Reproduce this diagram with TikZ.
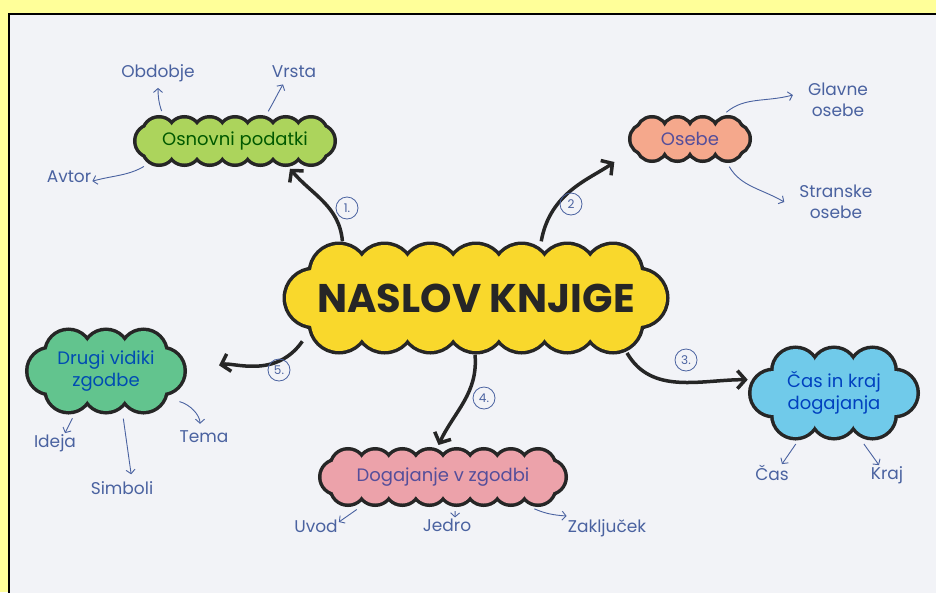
\documentclass[tikz,border=0pt]{standalone}
\usepackage{fontspec}
\setmainfont{Poppins}
\usepackage{tikz}
\usetikzlibrary{shapes.misc, arrows.meta, positioning}

\definecolor{rumena}{RGB}{255,255,153}
\definecolor{papir}{RGB}{242,243,247}
\definecolor{modra}{RGB}{74,98,160}
\definecolor{zlata}{RGB}{249,216,44}
\definecolor{zelena}{RGB}{172,212,92}
\definecolor{oranzna}{RGB}{245,168,140}
\definecolor{mzelena}{RGB}{98,196,142}
\definecolor{roza}{RGB}{236,162,170}
\definecolor{svmodra}{RGB}{112,202,234}

% oblak: sredisce x, y, pol dolzine, odmik vrste, st. kodrov, polmer, barva
\newcommand{\oblak}[7]{%
  \pgfmathtruncatemacro{\oblakzadnji}{#5-1}
  \foreach \plast in {1,2}{
    \ifnum\plast=1 \tikzset{oblakpot/.style={draw=black!85, fill=black!85, line width=7pt}}%
    \else \tikzset{oblakpot/.style={fill=#7}}\fi
    \path[oblakpot, rounded corners=#4pt] ({#1-#3-#4}, {#2-#4}) rectangle ({#1+#3+#4}, {#2+#4});
    \foreach \i in {0,...,\oblakzadnji}{
      \path[oblakpot] ({#1-#3+2*#3*\i/\oblakzadnji}, {#2+#4}) circle (#6pt);
      \path[oblakpot] ({#1-#3+2*#3*\i/\oblakzadnji}, {#2-#4}) circle (#6pt);
    }
    \path[oblakpot] ({#1+#3+#4}, #2) circle (#6pt);
    \path[oblakpot] ({#1-#3-#4}, #2) circle (#6pt);
  }
}

\tikzset{
  oblaknode/.style={rounded rectangle, inner sep=0pt, align=center, font=\fontsize{18}{22}\selectfont},
  podpis/.style={text=modra, font=\fontsize{17}{21}\selectfont, inner sep=1pt, align=center},
  debela/.style={line width=3.5pt, draw=black!85, -{Straight Barb[length=8pt,width=18pt]}},
  tanka/.style={line width=0.9pt, draw=modra, shorten <=4pt, -{Straight Barb[length=4pt,width=9pt]}},
  krog/.style={circle, draw=modra, line width=0.8pt, text=modra, inner sep=0pt, minimum size=22pt, font=\fontsize{12}{12}\selectfont},
}

\begin{document}
\begin{tikzpicture}[x=1pt, y=1pt]
        \useasboundingbox (0,0) rectangle (936,-592);
        \clip (0,0) rectangle (936,-592);
        \fill[rumena] (0,0) rectangle (936,-592);
        \draw[line width=2pt, fill=papir] (9,-14) rectangle (950,-610);

        % oblaki
        \oblak{476}{-298}{137}{25}{7}{28}{zlata}
        \oblak{235}{-141}{76}{7.5}{7}{15}{zelena}
        \oblak{690}{-139}{38}{6.5}{4}{14}{oranzna}
        \oblak{106}{-371}{37.5}{18}{3}{22}{mzelena}
        \oblak{443}{-477}{95}{10.5}{8}{16}{roza}
        \oblak{834}{-393}{38.5}{22}{3}{22}{svmodra}

        \node[oblaknode, minimum width=387pt, minimum height=113pt, font=\fontsize{40}{40}\selectfont\bfseries, text=black!85] (naslov) at (476,-298) {NASLOV KNJIGE};
        \node[oblaknode, minimum width=204pt, minimum height=52pt, text=green!35!black] (ospod) at (235,-141) {Osnovni podatki};
        \node[oblaknode, minimum width=124pt, minimum height=48pt, text=modra!80!violet] (osebe) at (690,-139) {Osebe};
        \node[oblaknode, minimum width=162pt, minimum height=87pt, text=teal!60!blue] (drugi) at (106,-371) {Drugi vidiki\\zgodbe};
        \node[oblaknode, minimum width=250pt, minimum height=60pt, text=modra!80!violet] (dogaj) at (443,-477) {Dogajanje v zgodbi};
        \node[oblaknode, minimum width=172pt, minimum height=95pt, text=blue!50!teal] (cas) at (834,-393) {Čas in kraj\\dogajanja};

        % debele puscice
        \draw[debela, shorten >=2pt] (naslov.157) to[out=95, in=-50] (ospod.-26);
        \draw[debela, shorten >=20pt] (naslov.41) to[out=80, in=215] (osebe.191);
        \draw[debela, shorten >=2pt] (naslov.-20) to[out=-60, in=180] (cas.171);
        \draw[debela, shorten >=2pt] (naslov.-91) to[out=-85, in=65] (dogaj.100);
        \draw[debela, shorten >=33pt] (naslov.194) to[out=235, in=15] (drugi.-2);

        \node[krog] (k1) at (347,-208) {1.};
        \node[krog] (k2) at (571,-204) {2};
        \node[krog] (k3) at (686,-360) {3.};
        \node[krog] (k4) at (484,-398) {4.};
        \node[krog] (k5) at (279,-370) {5.};

        % podtocke
        \node[podpis] (obd) at (158,-73) {Obdobje};
        \node[podpis] (vrsta) at (294,-72) {Vrsta};
        \node[podpis] (avtor) at (69,-177) {Avtor};
        \node[podpis] (glavne) at (838,-100) {Glavne\\osebe};
        \node[podpis] (stranske) at (836,-202) {Stranske\\osebe};
        \node[podpis] (ideja) at (55,-443) {Ideja};
        \node[podpis] (simboli) at (122,-488) {Simboli};
        \node[podpis] (tema) at (204,-437) {Tema};
        \node[podpis] (uvod) at (316,-526) {Uvod};
        \node[podpis] (jedro) at (447,-525) {Jedro};
        \node[podpis] (zak) at (607,-528) {Zaključek};
        \node[podpis] (casb) at (772,-473) {Čas};
        \node[podpis] (kraj) at (887,-475) {Kraj};

        \draw[tanka, shorten >=5pt] (ospod.160) to[out=110, in=-90] (obd.south);
        \draw[tanka, shorten >=6pt] (ospod.40) to[out=60, in=-120] ([xshift=-8pt]vrsta.south);
        \draw[tanka] (ospod.195) to[out=210, in=15] (avtor.-10);
        \draw[tanka] (osebe.36) to[out=40, in=195] ([xshift=-14pt, yshift=5pt]glavne.west);
        \draw[tanka] (osebe.-33) to[out=-60, in=150] ([xshift=-14pt]stranske.west);
        \draw[tanka] (drugi.-126) -- ([xshift=10pt]ideja.north);
        \draw[tanka, shorten >=6pt] (drugi.-69) -- ([xshift=10pt]simboli.north);
        \draw[tanka, shorten >=6pt] (drugi.-23) to[out=-15, in=90] ([xshift=-4pt]tema.north);
        \draw[tanka] (dogaj.200) -- ([yshift=4pt]uvod.east);
        \draw[tanka] (dogaj.-68) -- ([xshift=8pt]jedro.north);
        \draw[tanka] (dogaj.-19) to[bend right=10] ([yshift=12pt]zak.west);
        \draw[tanka] (cas.-127) -- ([xshift=10pt]casb.north);
        \draw[tanka] (cas.-60) -- ([xshift=-8pt]kraj.north);
\end{tikzpicture}
\end{document}
